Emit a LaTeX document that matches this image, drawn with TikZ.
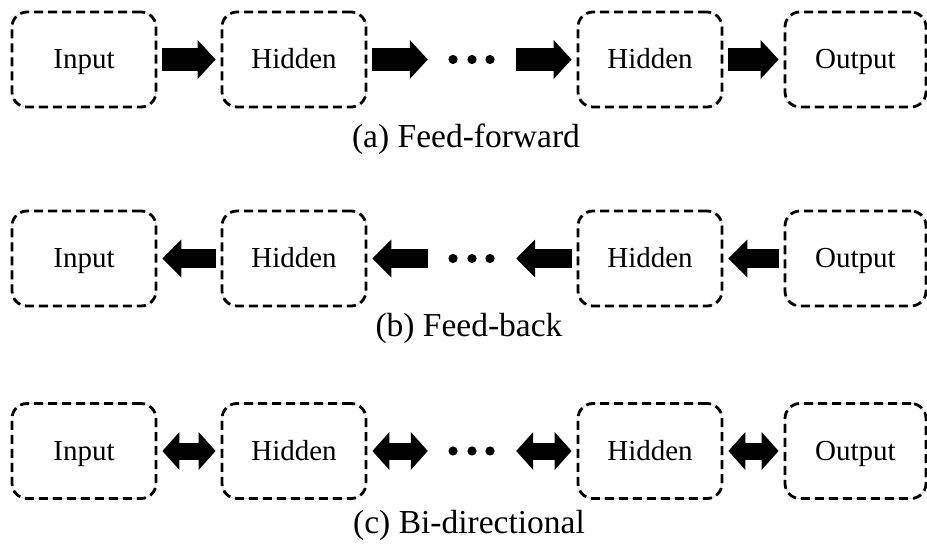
\documentclass[tikz,border=0pt]{standalone}
\usepackage{fontspec}
\setmainfont{Liberation Serif}
\usetikzlibrary{arrows.meta,calc}

\tikzset{
  layer/.style={
    draw=black, line width=2.8pt, dash pattern=on 9pt off 5pt,
    rounded corners=15pt, minimum width=144pt, minimum height=95pt,
    inner sep=0pt, font=\fontsize{29}{34}\selectfont,
    text height=26pt, text depth=7pt,
    preaction={draw=black!15, line width=0.8pt, solid}
  },
  gap/.style={minimum width=88pt, minimum height=10pt, inner sep=0pt},
  caption/.style={anchor=base, font=\fontsize{33.5}{40}\selectfont, inner sep=0pt},
  flow/.style={line cap=butt, shorten <=5pt, shorten >=5pt},
  fwd/.style={flow, line width=23pt, -{Triangle[width=38pt,length=18pt]}},
  bwd/.style={flow, line width=19pt, -{Triangle[width=37pt,length=19pt]}},
  both/.style={flow, line width=17pt,
    {Triangle[width=37pt,length=17pt]}-{Triangle[width=37pt,length=17pt]}},
  dot/.style={fill=black}
}

% one row: input, hidden, gap with dots, hidden, output
\newcommand{\netrow}[2]{%
  \node[layer] (#1in)  at (84,#2)  {Input};
  \node[layer] (#1h1)  at (294,#2) {Hidden};
  \node[gap]   (#1gap) at (472,#2) {};
  \node[layer] (#1h2)  at (650,#2) {Hidden};
  \node[layer, minimum width=141pt] (#1out) at (855.5,#2) {Output};
  \foreach \dx in {-19,0,18}
    \fill[dot] ($(#1gap.center)+(\dx,0)$) circle (4.6pt);
}

\begin{document}
\begin{tikzpicture}[x=1pt,y=1pt]
  \useasboundingbox (0,0) rectangle (927,547);

  % (a) feed-forward
  \netrow{a}{487.5}
  \draw[fwd] (ain.east) -- (ah1.west);
  \draw[fwd] (ah1.east) -- ([xshift=5pt]agap.west);
  \draw[fwd] ([xshift=-5pt]agap.east) -- (ah2.west);
  \draw[fwd] (ah2.east) -- (aout.west);
  \node[caption] (capa) at (466,399) {(a) Feed-forward};

  % (b) feed-back
  \netrow{b}{288.5}
  \draw[bwd] (bh1.west) -- (bin.east);
  \draw[bwd] ([xshift=5pt]bgap.west) -- (bh1.east);
  \draw[bwd] (bh2.west) -- ([xshift=-5pt]bgap.east);
  \draw[bwd] (bout.west) -- (bh2.east);
  \node[caption] (capb) at (469,210) {(b) Feed-back};

  % (c) bi-directional
  \netrow{c}{96}
  \draw[both] (cin.east) -- (ch1.west);
  \draw[both] (ch1.east) -- ([xshift=5pt]cgap.west);
  \draw[both] ([xshift=-5pt]cgap.east) -- (ch2.west);
  \draw[both] (ch2.east) -- (cout.west);
  \node[caption] (capc) at (469,14) {(c) Bi-directional};
\end{tikzpicture}
\end{document}
